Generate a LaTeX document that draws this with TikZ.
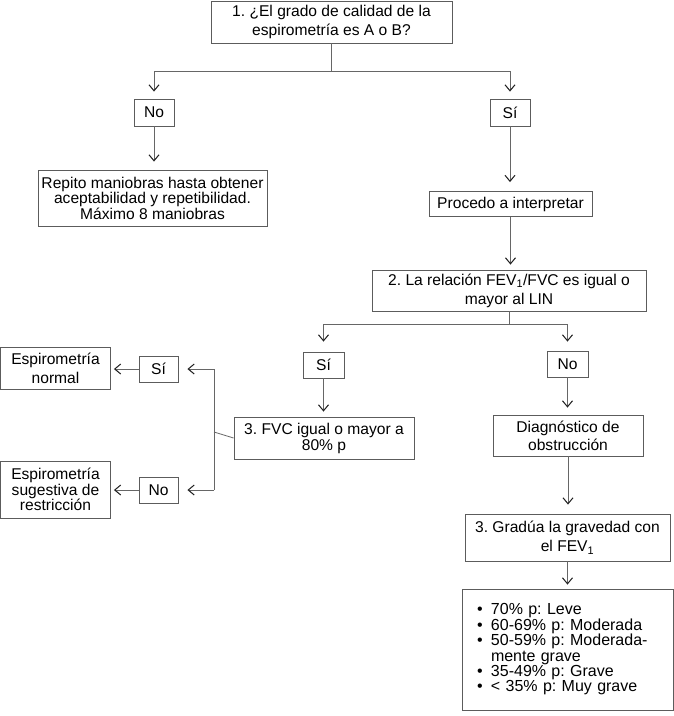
\documentclass[tikz,border=0pt]{standalone}
\usepackage{fontspec}
\setmainfont{Liberation Sans}
\usetikzlibrary{arrows.meta}
\definecolor{boxcol}{gray}{0.36}
\definecolor{linecol}{gray}{0.40}
\definecolor{tipcol}{gray}{0.12}
\frenchspacing
\begin{document}
\begin{tikzpicture}[x=1pt,y=-1pt,
  box/.style={draw=boxcol, line width=0.9pt, fill=white, inner sep=0pt, align=center,
    font=\fontsize{15.6}{19}\selectfont},
  tight/.style={font=\fontsize{15.6}{15.5}\selectfont},
  conn/.style={draw=linecol, line width=0.8pt},
  arr/.style={conn, -{Straight Barb[length=6pt,width=10pt,line width=1pt,color=tipcol]}}]
\useasboundingbox[fill=white] (0,0) rectangle (674,716);

% nodes
\node[box, minimum width=241pt, minimum height=42pt] (q1) at (331.5,22) {1. ¿El grado de calidad de la\\espirometría es A o B?};
\node[box, minimum width=40pt, minimum height=27pt] (no1) at (154,112.5) {No};
\node[box, minimum width=40pt, minimum height=27pt] (si1) at (510,112.5) {Sí};
\node[box, tight, minimum width=229pt, minimum height=56pt] (rep) at (152.5,198) {Repito maniobras hasta obtener\\aceptabilidad y repetibilidad.\\Máximo 8 maniobras};
\node[box, minimum width=163pt, minimum height=25pt] (proc) at (510.5,204) {Procedo a interpretar};
\node[box, minimum width=274pt, minimum height=41pt] (q2) at (509,290.5) {2. La relación FEV\textsubscript{1}/FVC es igual o\\mayor al LIN};
\node[box, minimum width=41pt, minimum height=26pt] (si2) at (323.5,365) {Sí};
\node[box, minimum width=41pt, minimum height=26pt] (no2) at (567.5,364) {No};
\node[box, font=\fontsize{15.6}{16}\selectfont, minimum width=180pt, minimum height=42pt] (q3) at (324,438) {3. FVC igual o mayor a\\80\% p};
\node[box, font=\fontsize{15.6}{18}\selectfont, minimum width=150pt, minimum height=41pt] (diag) at (568,435.5) {Diagnóstico de\\obstrucción};
\node[box, minimum width=205pt, minimum height=47pt] (grad) at (567.5,537.5) {3. Gradúa la gravedad con\\el FEV\textsubscript{1}};
\node[box, align=left, font=\fontsize{16}{15.4}\selectfont, text width=181pt, minimum width=211pt, minimum height=121pt] (bul) at (567.5,649.5)
 {\makebox[14pt][l]{•}70\% p: Leve\\
  \makebox[14pt][l]{•}60-69\% p: Moderada\\
  \makebox[14pt][l]{•}50-59\% p: Moderada-\\
  \hspace*{14pt}mente grave\\
  \makebox[14pt][l]{•}35-49\% p: Grave\\
  \makebox[14pt][l]{•}< 35\% p: Muy grave};
\node[box, minimum width=110pt, minimum height=42pt] (norm) at (55.5,368) {Espirometría\\normal};
\node[box, minimum width=39pt, minimum height=26pt] (si3) at (158.5,369) {Sí};
\node[box, tight, minimum width=110pt, minimum height=57pt] (sug) at (55.5,489.5) {Espirometría\\sugestiva de\\restricción};
\node[box, minimum width=39pt, minimum height=26pt] (no3) at (158.5,490) {No};

% connectors
\coordinate (b1) at (331.5,71);
\draw[conn] (q1.south) -- (b1);
\draw[arr, shorten >=7pt] (b1) -| (no1.north);
\draw[arr, shorten >=7pt] (b1) -| (si1.north);
\draw[arr, shorten >=8pt] (no1.south) -- (rep.north -| no1.south);
\draw[arr, shorten >=9pt] (si1.south) -- (proc.north -| si1.south);
\draw[arr, shorten >=5pt] (proc.south) -- (q2.north -| proc.south);
\coordinate (b2) at (509,324);
\draw[conn] (q2.south) -- (b2);
\draw[arr, shorten >=10pt] (b2) -| (si2.north);
\draw[arr, shorten >=9pt] (b2) -| (no2.north);
\draw[arr, shorten >=5pt] (si2.south) -- (q3.north -| si2.south);
\draw[arr, shorten >=7pt] (no2.south) -- (diag.north -| no2.south);
\draw[arr, shorten >=9pt] (diag.south) -- (grad.north -| diag.south);
\draw[arr, shorten >=4pt] (grad.south) -- (bul.north -| grad.south);
\coordinate (jm) at (214,432);
\coordinate (j1) at (214,369);
\coordinate (j2) at (214,490);
\draw[conn] (q3.west) -- (jm);
\draw[conn] (j1) -- (j2);
\draw[arr, shorten >=9pt] (j1) -- (si3.east);
\draw[arr, shorten >=9pt] (j2) -- (no3.east);
\draw[arr, shorten >=3pt] (si3.west) -- (si3.west -| norm.east);
\draw[arr, shorten >=3pt] (no3.west) -- (no3.west -| sug.east);
\end{tikzpicture}
\end{document}
